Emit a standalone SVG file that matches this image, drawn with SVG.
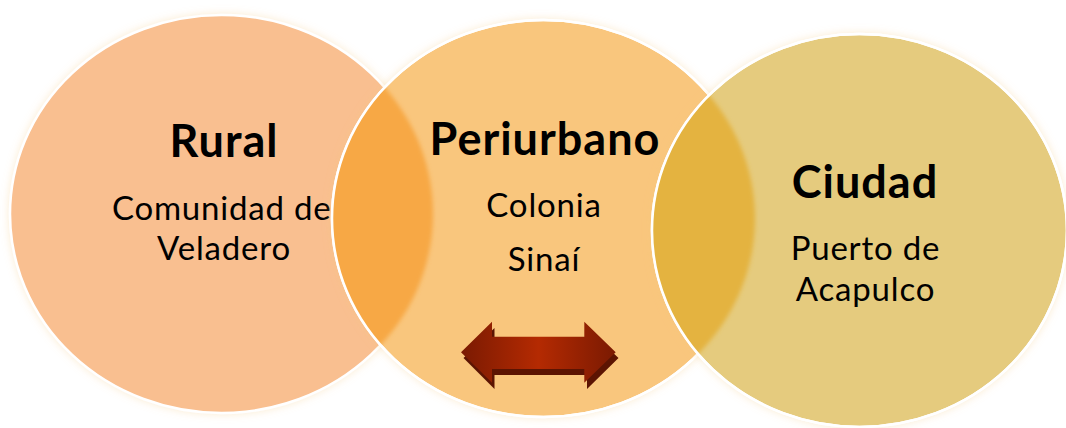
<svg xmlns="http://www.w3.org/2000/svg" width="1066" height="428" viewBox="0 0 1066 428">
<style>
.title{font-family:Lato,"Open Sans","DejaVu Sans",sans-serif;font-weight:bold;font-size:45px;letter-spacing:1px;fill:#000;text-anchor:middle}
.sub{font-family:Lato,"Open Sans","DejaVu Sans",sans-serif;font-size:33px;letter-spacing:0.8px;fill:#000;text-anchor:middle}
.circ{stroke:#fff;stroke-width:2.5}
</style>
<defs>
<filter id="halo" x="-10%" y="-10%" width="120%" height="120%">
<feDropShadow dx="0" dy="0" stdDeviation="4" flood-color="#f3c77a" flood-opacity="0.35"/>
</filter>
<filter id="soft" x="-10%" y="-10%" width="120%" height="120%">
<feGaussianBlur stdDeviation="2"/>
</filter>
<clipPath id="clipMid"><ellipse cx="543.5" cy="218.5" rx="211.5" ry="198.5"/></clipPath>
<clipPath id="clipRight"><ellipse cx="859.5" cy="230.5" rx="207.5" ry="196.5"/></clipPath>
<linearGradient id="arrowFace" x1="461" y1="0" x2="616" y2="0" gradientUnits="userSpaceOnUse">
<stop offset="0" stop-color="#7a1a02"/>
<stop offset="0.5" stop-color="#b42a02"/>
<stop offset="1" stop-color="#7a1a02"/>
</linearGradient>
</defs>
<rect width="1066" height="428" fill="#fff"/>

<g id="rural">
<ellipse class="circ" cx="221.5" cy="214" rx="211.5" ry="199" fill="#f9bf90" filter="url(#halo)"/>
<text class="title" x="224" y="157">Rural</text>
<text class="sub" x="226" y="220">Comunidad del</text>
<text class="sub" x="224" y="260">Veladero</text>
</g>

<g id="periurbano">
<ellipse class="circ" cx="543.5" cy="218.5" rx="211.5" ry="198.5" fill="#f9c67d" filter="url(#halo)"/>
<g clip-path="url(#clipMid)">
<ellipse cx="221.5" cy="214" rx="211.5" ry="199" fill="#f7a845" filter="url(#soft)"/>
</g>
<ellipse cx="543.5" cy="218.5" rx="211.5" ry="198.5" fill="none" stroke="#fff" stroke-width="2.5"/>
<text class="title" x="545" y="155">Periurbano</text>
<text class="sub" x="544" y="217">Colonia</text>
<text class="sub" x="544" y="271">Sinaí</text>
</g>

<g id="ciudad">
<ellipse class="circ" cx="859.5" cy="230.5" rx="207.5" ry="196.5" fill="#e5cb7e" filter="url(#halo)"/>
<g clip-path="url(#clipRight)">
<ellipse cx="543.5" cy="218.5" rx="211.5" ry="198.5" fill="#e4b33f" filter="url(#soft)"/>
</g>
<ellipse cx="859.5" cy="230.5" rx="207.5" ry="196.5" fill="none" stroke="#fff" stroke-width="2.5"/>
<text class="title" x="865" y="198">Ciudad</text>
<text class="sub" x="865.5" y="260">Puerto de</text>
<text class="sub" x="865.5" y="301">Acapulco</text>
</g>

<g id="connectors">
<polygon points="463.5,358 494.5,328 494.5,343 587,343 587,328 618.5,358 587,389 587,375 494.5,375 494.5,389" fill="#5c1402"/>
<polygon points="461,352.3 492,321.7 492,336.7 584.3,336.7 584.3,321.7 615.7,352.3 584.3,382.7 584.3,369 492,369 492,382.7" fill="url(#arrowFace)"/>
</g>
</svg>
